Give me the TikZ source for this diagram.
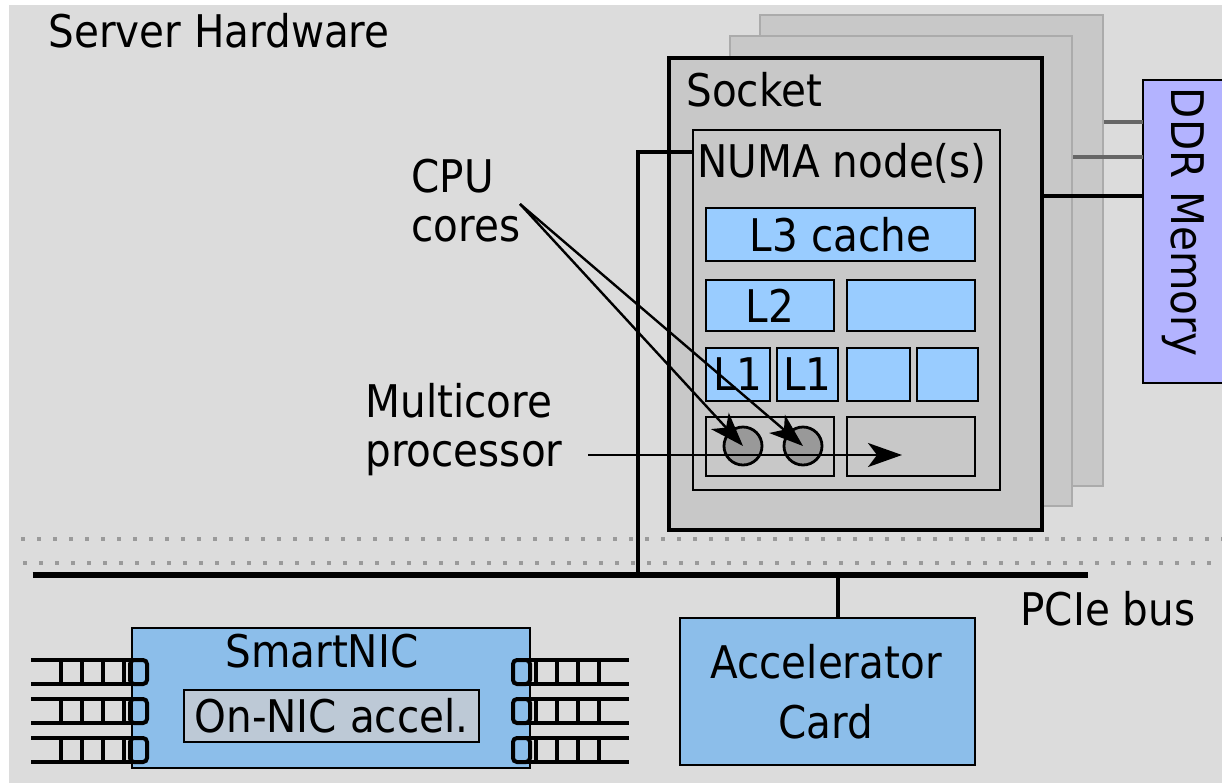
\documentclass[tikz,border=0pt]{standalone}
\usepackage{fontspec}
\setmainfont{DejaVu Sans}[FakeStretch=0.9]
\usetikzlibrary{fit,arrows.meta}

\definecolor{bggray}{HTML}{DCDCDC}
\definecolor{socketgray}{HTML}{C8C8C8}
\definecolor{shadowedge}{HTML}{ABABAB}
\definecolor{cacheblue}{HTML}{99CCFF}
\definecolor{cardblue}{HTML}{8CBEEA}
\definecolor{accelgray}{HTML}{BDC9D6}
\definecolor{ddrviolet}{HTML}{B3B3FF}
\definecolor{coregray}{HTML}{999999}
\definecolor{dotgray}{HTML}{9A9A9A}
\definecolor{wiregray}{HTML}{666666}

\begin{document}
\begin{tikzpicture}[x=0.5pt,y=-0.5pt,
  every node/.style={font=\fontsize{22.5}{25}\selectfont, inner sep=0pt},
  frame/.style={draw=black, line width=1.4pt, inner sep=0pt},
  cachebox/.style={frame, fill=cacheblue},
  cardbox/.style={frame, fill=cardblue},
  corebox/.style={frame, fill=socketgray},
  shadowbox/.style={draw=shadowedge, line width=1.4pt, fill=socketgray, inner sep=0pt},
  core/.style={circle, draw=black, line width=1.4pt, fill=coregray, minimum size=19pt, inner sep=0pt},
  wire/.style={line width=2pt},
  arr/.style={line width=1.2pt, -{Stealth[length=17pt,width=12pt,inset=4.5pt]}},
  qline/.style={line width=2pt},
  dotrow/.style={dotgray, line width=2.2pt, dash pattern=on 2.2pt off 5.8pt},
  lbl/.style={anchor=base west},
]
\useasboundingbox (0,0) rectangle (1222,783);
\fill[white] (0,0) rectangle (1222,783);
\fill[bggray] (9,5) rectangle (1222,783);

\node[lbl] (title) at (48,47) {Server Hardware};

% further sockets stacked behind the first one
\node[shadowbox, fit={(760,15)(1103,486)}] (sock3) {};
\node[shadowbox, fit={(730,36)(1072,506)}] (sock2) {};

% memory and its channels
\node[frame, fill=ddrviolet, fit={(1143,80)(1240,383)}] (ddr) {};
\node[rotate=-90] (ddrtext) at (1183,222) {DDR Memory};
\coordinate (m3) at (1143,122);
\coordinate (m2) at (1143,157);
\coordinate (m1) at (1143,196);
\draw[wiregray, line width=2pt] (m3 -| sock3.east) -- (m3);
\draw[wiregray, line width=2pt] (m2 -| sock2.east) -- (m2);

% front socket
\node[draw=black, line width=1.7pt, fill=socketgray, inner sep=0pt, fit={(669,58)(1042,530)}] (sock1) {};
\draw[wire] (m1 -| sock1.east) -- (m1);
\node[lbl] (socktext) at (686,106) {Socket};

\node[corebox, fit={(693,130)(1000,490)}] (numa) {};
\node[lbl] (numatext) at (697,177) {NUMA node(s)};

% cache hierarchy
\node[cachebox, fit={(706,208)(975,261)}] (l3) {};
\node[cachebox, fit={(706,280)(834,331)}] (l2a) {};
\node[cachebox, fit={(847,280)(975,331)}] (l2b) {};
\node[cachebox, fit={(706,348)(770,401)}] (l1a) {};
\node[cachebox, fit={(777,348)(838,401)}] (l1b) {};
\node[cachebox, fit={(847,348)(910,401)}] (l1c) {};
\node[cachebox, fit={(917,348)(978,401)}] (l1d) {};
\node (l3text) at (l3.center) {L3 cache};
\node (l2text) at (l2a.center) {L2};
\node (l1atext) at (l1a.center) {L1};
\node (l1btext) at (l1b.center) {L1};
\node[corebox, fit={(706,417)(834,476)}] (pa) {};
\node[corebox, fit={(847,417)(975,476)}] (pb) {};
\node[core] (c1) at (743,446) {};
\node[core] (c2) at (803,446) {};

% system bus
\node[fit={(33,575)(1088,575)}] (bus) {};
\draw[line width=3pt] (bus.west) -- (bus.east);
\node[lbl] (pcietext) at (1020,625) {PCIe bus};

\coordinate (numaport) at (693,152);
\coordinate (tapnuma) at (638,575);
\draw[wire] (numaport) -| (tapnuma);

% separators
\draw[dotrow] (21,539) -- (1222,539);
\draw[dotrow] (23,563) -- (1222,563);

% annotations
\node[lbl] (cpu1) at (411,192) {CPU};
\node[lbl] (cpu2) at (411,241) {cores};
\coordinate (cpufrom) at (520,204);
\draw[arr] (cpufrom) -- (c1.center);
\draw[arr] (cpufrom) -- (c2.center);

\node[lbl] (mc1) at (365,417) {Multicore};
\node[lbl] (mc2) at (365,466) {processor};
\coordinate (mcfrom) at (588,455);
\coordinate (mcto) at (902,455);
\draw[arr] (mcfrom) -- (mcto);

% accelerator card
\node[cardbox, fit={(680,618)(975,765)}] (acc) {};
\node[anchor=base] (acc1) at (826,678) {Accelerator};
\node[anchor=base] (acc2) at (826,738) {Card};
\coordinate (accport) at (838,618);
\draw[wire] (accport) -- (accport |- bus.center);

% SmartNIC with its queues
\node[cardbox, fit={(132,628)(530,768)}] (nic) {};
\node[anchor=base] (nictext) at (322,667) {SmartNIC};
\node[frame, fill=accelgray, fit={(184,690)(479,742)}] (onnic) {};
\node (onnictext) at (onnic.center) {On-NIC accel.};

\foreach \yc in {672,711,750} {
  % left side queue
  \draw[qline] (31,\yc-12) -- (138,\yc-12) (31,\yc+12) -- (138,\yc+12);
  \foreach \xd in {61,82,103,124} \draw[qline] (\xd,\yc-12) -- (\xd,\yc+12);
  \draw[qline, rounded corners=2pt] (130,\yc-12) rectangle (147,\yc+12);
  % right side queue
  \draw[qline] (522,\yc-12) -- (629,\yc-12) (522,\yc+12) -- (629,\yc+12);
  \foreach \xd in {536,557,578,599} \draw[qline] (\xd,\yc-12) -- (\xd,\yc+12);
  \draw[qline, rounded corners=2pt] (513,\yc-12) rectangle (530,\yc+12);
}
\end{tikzpicture}
\end{document}
